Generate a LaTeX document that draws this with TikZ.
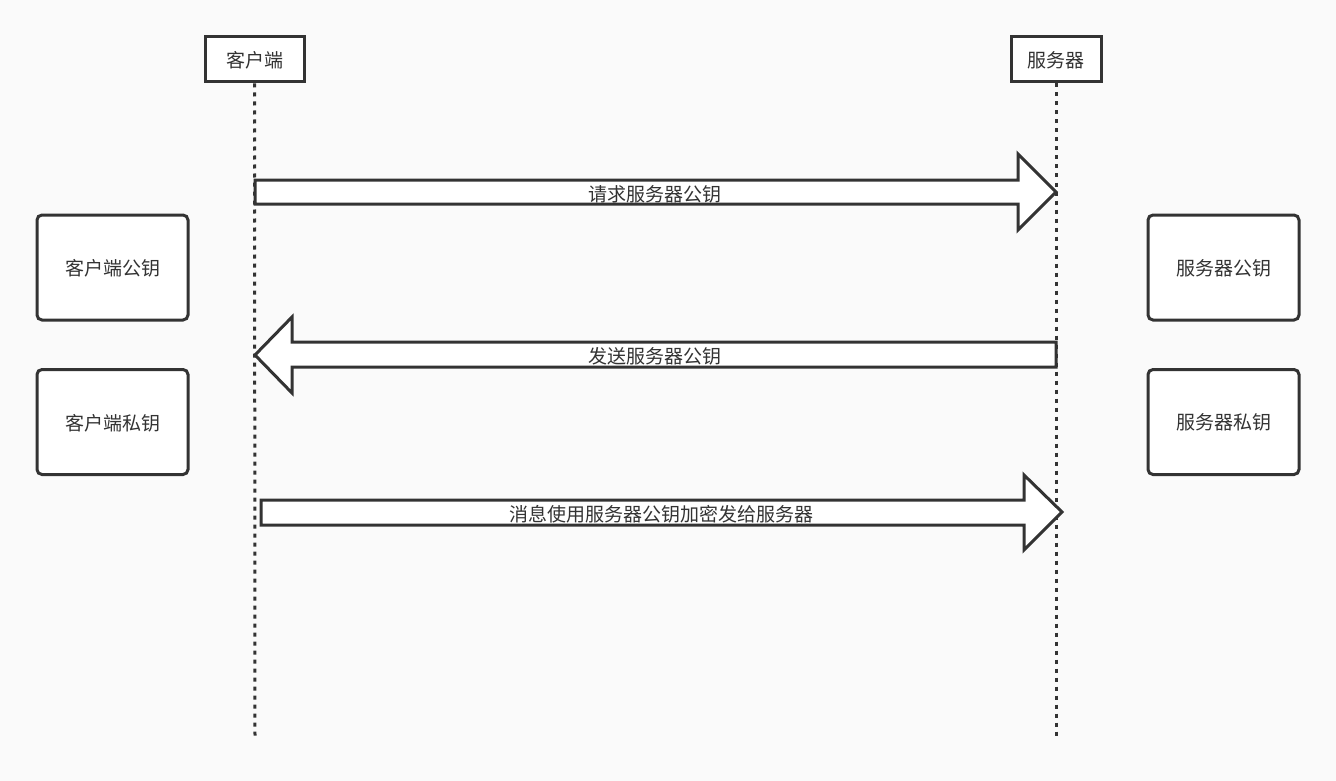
\documentclass[tikz,border=0pt]{standalone}
\usepackage{fontspec}
\setmainfont{Noto Sans CJK SC}
\usepackage{tikz}
\definecolor{linegray}{HTML}{333333}
\definecolor{bggray}{HTML}{FAFAFA}
\tikzset{
  actor/.style={draw=linegray,line width=3pt,fill=white,inner sep=0pt,minimum height=45pt,text depth=-2pt},
  keybox/.style={draw=linegray,line width=3pt,fill=white,rounded corners=5pt,inner sep=0pt,minimum width=151pt,minimum height=105pt,text depth=-2pt},
  lifeline/.style={draw=linegray,line width=3pt,dash pattern=on 4pt off 5pt},
  blockarrow/.style={draw=linegray,line width=3pt,fill=white,line join=miter},
  msg/.style={text=linegray,inner sep=0pt}
}
\begin{document}
\begin{tikzpicture}[x=1pt,y=-1pt,font=\fontsize{19}{22}\selectfont,text=linegray]
	%BACKGROUND
	\fill[bggray] (0,0) rectangle (1336,781);
	\useasboundingbox (0,0) rectangle (1336,781);

	%ACTORS
	\node[actor,minimum width=99pt] (client) at (254.5,59.5) {客户端};
	\node[actor,minimum width=90pt] (server) at (1056,59.5) {服务器};
	\coordinate (clientend) at (255,738);
	\coordinate (serverend) at (1056,738);
	\draw[lifeline] (client.south) -- (clientend);
	\draw[lifeline] (server.south) -- (serverend);

	%KEYS
	\node[keybox] (cpub) at (112.5,267.5) {客户端公钥};
	\node[keybox] (cpriv) at (112.5,422) {客户端私钥};
	\node[keybox] (spub) at (1223.5,267.5) {服务器公钥};
	\node[keybox] (spriv) at (1223.5,422) {服务器私钥};

	%MESSAGES
	\draw[blockarrow] (255,180)--(1018,180)--(1018,154)--(1056,192)--(1018,230)--(1018,204)--(255,204)--cycle; %request
	\node[msg] (m1) at (655,194) {请求服务器公钥};
	\draw[blockarrow] (1056,342)--(292,342)--(292,317)--(255,355)--(292,393)--(292,367)--(1056,367)--cycle; %reply
	\node[msg] (m2) at (655,356) {发送服务器公钥};
	\draw[blockarrow] (261,500)--(1024,500)--(1024,475)--(1062,512)--(1024,550)--(1024,525)--(261,525)--cycle; %encrypted
	\node[msg] (m3) at (661,514) {消息使用服务器公钥加密发给服务器};
\end{tikzpicture}
\end{document}
